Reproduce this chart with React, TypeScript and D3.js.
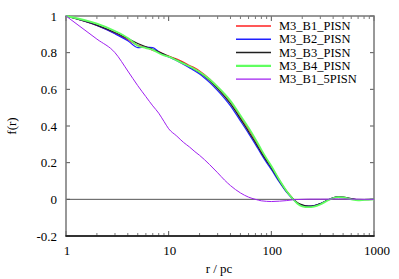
import React from 'react';
import * as d3 from 'd3';

// sample radii (pc) and correlation values
const radii = [1, 2, 3, 4, 5, 6, 7, 8, 9, 10, 12, 14, 16, 18, 20, 25, 30, 35, 40, 50, 60, 70, 80, 90, 100, 120, 140, 160, 180, 200, 230, 260, 300, 350, 400, 450, 500, 600, 700, 800, 1000];

const b1 = [1, 0.948, 0.905, 0.87, 0.84, 0.83, 0.812, 0.806, 0.79, 0.782, 0.765, 0.748, 0.73, 0.716, 0.7, 0.657, 0.613, 0.572, 0.533, 0.452, 0.382, 0.32, 0.264, 0.217, 0.178, 0.104, 0.047, 0.008, -0.02, -0.033, -0.038, -0.035, -0.024, -0.006, 0.008, 0.013, 0.011, 0.003, -0.002, -0.001, 0];
const b2 = [1, 0.948, 0.903, 0.865, 0.828, 0.83, 0.828, 0.805, 0.788, 0.776, 0.756, 0.736, 0.717, 0.7, 0.684, 0.638, 0.593, 0.551, 0.51, 0.428, 0.36, 0.3, 0.245, 0.2, 0.163, 0.093, 0.04, 0.004, -0.021, -0.033, -0.037, -0.034, -0.023, -0.005, 0.008, 0.013, 0.011, 0.003, -0.002, -0.001, 0];
const b3 = [1, 0.95, 0.91, 0.877, 0.85, 0.832, 0.818, 0.804, 0.792, 0.78, 0.76, 0.742, 0.724, 0.708, 0.692, 0.648, 0.603, 0.562, 0.522, 0.44, 0.37, 0.31, 0.255, 0.21, 0.172, 0.1, 0.045, 0.008, -0.018, -0.03, -0.037, -0.035, -0.024, -0.006, 0.008, 0.013, 0.012, 0.004, -0.002, -0.002, 0];
const b4 = [1, 0.958, 0.918, 0.88, 0.838, 0.825, 0.815, 0.798, 0.785, 0.778, 0.758, 0.74, 0.725, 0.71, 0.695, 0.655, 0.613, 0.575, 0.537, 0.457, 0.39, 0.328, 0.27, 0.222, 0.182, 0.105, 0.047, 0.006, -0.024, -0.038, -0.043, -0.04, -0.028, -0.008, 0.007, 0.012, 0.01, 0.0, -0.005, -0.003, 0];
const b15 = [1, 0.874, 0.8, 0.7, 0.62, 0.56, 0.51, 0.47, 0.425, 0.385, 0.345, 0.31, 0.285, 0.26, 0.24, 0.19, 0.145, 0.105, 0.075, 0.035, 0.012, 0, -0.008, -0.011, -0.012, -0.01, -0.007, -0.003, -0.001, 0, 0.001, 0.001, 0.001, 0.001, 0.002, 0.002, 0.002, 0.001, 0.001, 0, 0];

const seriesNames = ['M3_B1_PISN', 'M3_B2_PISN', 'M3_B3_PISN', 'M3_B4_PISN', 'M3_B1_5PISN'];
const seriesValues = [b1, b2, b3, b4, b15];
const colors = ['#ff2020', '#2020ff', '#202020', '#60ff60', '#a020f0'];
const widths = [1.2, 1.2, 1.2, 1.8, 1];

const xTicks = [1, 10, 100, 1000];
const yTicks = [-0.2, 0, 0.2, 0.4, 0.6, 0.8, 1];

const W = 399, H = 279;
const left = 66, right = 374, top = 16, bottom = 236;
const font = "'Liberation Serif'";

export default function App() {
  const x = d3.scaleLog().domain([1, 1000]).range([left, right]);
  const y = d3.scaleLinear().domain([-0.2, 1]).range([bottom, top]);
  const line = d3.line<number>()
    .x((_, i) => x(radii[i]))
    .y(d => y(d))
    .curve(d3.curveMonotoneX);

  const minor: number[] = [];
  for (let p = 1; p < 1000; p *= 10) {
    for (let k = 2; k <= 9; k++) minor.push(p * k);
  }

  return (
    <svg width={W} height={H} style={{ position: 'absolute', left: 0, top: 0 }}>
      <rect width={W} height={H} fill="#fff" />
      {/* zero line */}
      <line x1={left} x2={right} y1={y(0)} y2={y(0)} stroke="#555" strokeWidth={1} />
      {/* ticks */}
      {yTicks.map(t => (
        <g key={'y' + t}>
          <line x1={left} x2={left + 4} y1={y(t)} y2={y(t)} stroke="#555" />
          <line x1={right} x2={right - 4} y1={y(t)} y2={y(t)} stroke="#555" />
          <text x={left - 9} y={y(t)} dy="0.35em" textAnchor="end" style={{ fontFamily: font }} fontSize={13}>{t}</text>
        </g>
      ))}
      {xTicks.map(t => (
        <g key={'x' + t}>
          <line x1={x(t)} x2={x(t)} y1={bottom} y2={bottom - 5} stroke="#555" />
          <line x1={x(t)} x2={x(t)} y1={top} y2={top + 5} stroke="#555" />
          <text x={x(t) + (t === 1000 ? 3 : 1)} y={bottom + 19} textAnchor="middle" style={{ fontFamily: font }} fontSize={13}>{t}</text>
        </g>
      ))}
      {minor.map(t => (
        <g key={'m' + t}>
          <line x1={x(t)} x2={x(t)} y1={bottom} y2={bottom - 3} stroke="#777" />
          <line x1={x(t)} x2={x(t)} y1={top} y2={top + 3} stroke="#777" />
        </g>
      ))}
      {/* frame */}
      <rect x={left} y={top} width={right - left} height={bottom - top} fill="none" stroke="#777" strokeWidth={1.5} />
      <line x1={left - 0.5} x2={right + 0.5} y1={bottom} y2={bottom} stroke="#111" strokeWidth={1.5} />
      {/* curves */}
      {seriesValues.map((vals, i) => (
        <path key={seriesNames[i]} d={line(vals) || ''} fill="none" stroke={colors[i]} strokeWidth={widths[i]} />
      ))}
      {/* legend */}
      {seriesNames.map((name, i) => {
        const ly = 26 + i * 13.3;
        return (
          <g key={'l' + name}>
            <line x1={236} x2={271} y1={ly} y2={ly} stroke={colors[i]} strokeWidth={widths[i] + 0.3} />
            <text x={279} y={ly} dy="0.33em" style={{ fontFamily: font }} fontSize={12.5}>{name}</text>
          </g>
        );
      })}
      {/* axis titles */}
      <text transform="translate(16,126) rotate(-90)" textAnchor="middle" style={{ fontFamily: font }} fontSize={13}>f(r)</text>
      <text x={219} y={273} textAnchor="middle" style={{ fontFamily: font }} fontSize={13}>r / pc</text>
    </svg>
  );
}
